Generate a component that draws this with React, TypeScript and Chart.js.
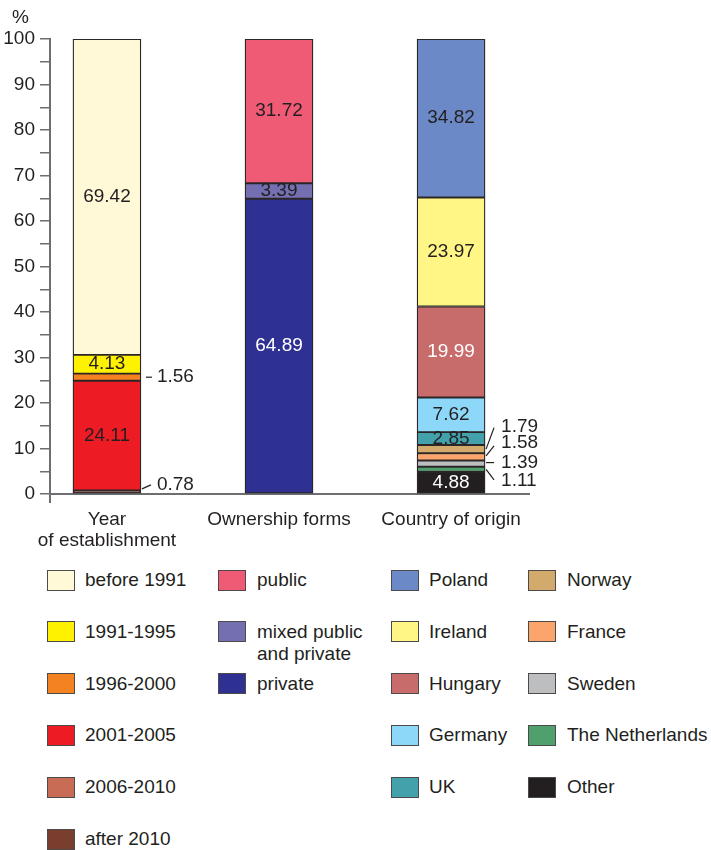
import React, { useEffect, useRef } from 'react';
import { Chart, registerables } from 'chart.js';

Chart.register(...registerables);

// ---------- data ----------
const categories: (string | string[])[] = [['Year', 'of establishment'], 'Ownership forms', 'Country of origin'];
const categoryPositions = [0, 1, 2];

const yearSeries = ['before 1991', '1991-1995', '1996-2000', '2001-2005', '2006-2010', 'after 2010'];
const yearValues: (number | null)[] = [69.42, 4.13, 1.56, 24.11, null, 0.78];

const ownershipSeries = ['public', 'mixed public and private', 'private'];
const ownershipValues: (number | null)[] = [31.72, 3.39, 64.89];

const countrySeries = ['Poland', 'Ireland', 'Hungary', 'Germany', 'UK', 'Norway', 'France', 'Sweden', 'The Netherlands', 'Other'];
const countryValues: (number | null)[] = [34.82, 23.97, 19.99, 7.62, 2.85, 1.79, 1.58, 1.39, 1.11, 4.88];

const yMin = 0;
const yMax = 100;
const yStep = 5;
const yLabelStep = 10;

// ---------- style ----------
const FONT = '"Liberation Sans", Arial, Helvetica, sans-serif';
const FS = 19;
const TEXT = '#231f20';
const AXIS = '#6d6e71';
const BORDER = '#2b2627';

const yearColors = ['#FFF9D8', '#FFF200', '#F58220', '#ED1C24', '#C96C55', '#7A3E2E'];
const ownershipColors = ['#EF5A74', '#736FB0', '#2E3192'];
const countryColors = ['#6A89C6', '#FFF685', '#C86B6B', '#8DD8F8', '#43A1AC', '#D2AA6B', '#FBA56D', '#BCBEC0', '#50A06E', '#231F20'];

type Outside = { ly: number; x1: number; y1: number; x2: number; y2: number };
const labelStyles: Record<string, { color?: string; outside?: Outside }> = {
  'private': { color: '#ffffff' },
  'Hungary': { color: '#ffffff' },
  'Other': { color: '#ffffff' },
  '1996-2000': { outside: { ly: 0, x1: 5, y1: 0, x2: 11, y2: 0 } },
  'after 2010': { outside: { ly: -7, x1: 1, y1: -3, x2: 10, y2: 0 } },
  'Norway': { outside: { ly: -22.5, x1: 1, y1: 0, x2: 9, y2: 1 } },
  'France': { outside: { ly: -14, x1: 1, y1: -1, x2: 9, y2: 3 } },
  'Sweden': { outside: { ly: -1, x1: 1, y1: -1, x2: 9, y2: 0 } },
  'The Netherlands': { outside: { ly: 11.5, x1: 1, y1: 0, x2: 9, y2: -1 } },
};

const groups = [
  { series: yearSeries, values: yearValues, colors: yearColors, cat: categoryPositions[0] },
  { series: ownershipSeries, values: ownershipValues, colors: ownershipColors, cat: categoryPositions[1] },
  { series: countrySeries, values: countryValues, colors: countryColors, cat: categoryPositions[2] },
];

function buildDatasets() {
  const ds: any[] = [];
  groups.forEach((g) => {
    for (let i = g.series.length - 1; i >= 0; i--) {
      ds.push({
        label: g.series[i],
        data: [{ x: g.cat, y: g.values[i] }],
        backgroundColor: g.colors[i],
        borderColor: BORDER,
        borderWidth: 1.3,
        borderSkipped: false,
        barThickness: 68,
        stack: 'all',
      });
    }
  });
  return ds;
}

const segmentLabels = {
  id: 'segmentLabels',
  afterDatasetsDraw(chart: any) {
    const ctx = chart.ctx as CanvasRenderingContext2D;
    ctx.save();
    ctx.font = `${FS}px ${FONT}`;
    chart.data.datasets.forEach((ds: any, i: number) => {
      const meta = chart.getDatasetMeta(i);
      meta.data.forEach((el: any, j: number) => {
        const raw = ds.data[j];
        if (!raw || raw.y == null) return;
        const { x, y, base, width } = el.getProps(['x', 'y', 'base', 'width'], true);
        const cy = (y + base) / 2;
        const text = Number(raw.y).toFixed(2);
        const st = labelStyles[ds.label] || {};
        if (st.outside) {
          const o = st.outside;
          const rx = x + width / 2;
          ctx.strokeStyle = TEXT;
          ctx.lineWidth = 1.2;
          ctx.beginPath();
          ctx.moveTo(rx + o.x1, cy + o.y1);
          ctx.lineTo(rx + o.x2, cy + o.ly + o.y2);
          ctx.stroke();
          ctx.fillStyle = TEXT;
          ctx.textAlign = 'left';
          ctx.textBaseline = 'middle';
          ctx.fillText(text, rx + 16, cy + o.ly);
        } else {
          ctx.fillStyle = st.color || TEXT;
          ctx.textAlign = 'center';
          ctx.textBaseline = 'middle';
          ctx.fillText(text, x, cy);
        }
      });
    });
    // y axis continues a little below the baseline
    const { left, bottom } = chart.chartArea;
    ctx.strokeStyle = AXIS;
    ctx.lineWidth = 2;
    ctx.beginPath();
    ctx.moveTo(left, bottom);
    ctx.lineTo(left, bottom + 9);
    ctx.stroke();
    ctx.restore();
  },
};

function ChartCanvas() {
  const ref = useRef<HTMLCanvasElement | null>(null);
  useEffect(() => {
    if (!ref.current) return;
    const chart = new Chart(ref.current, {
      type: 'bar',
      data: { datasets: buildDatasets() },
      plugins: [segmentLabels],
      options: {
        responsive: false,
        animation: false,
        devicePixelRatio: 1,
        layout: { padding: { top: 39, right: 182, left: 0, bottom: 0 } },
        plugins: { legend: { display: false }, tooltip: { enabled: false } },
        scales: {
          x: {
            type: 'linear',
            stacked: true,
            offset: false,
            bounds: 'data',
            min: -0.331,
            max: 2.453,
            afterBuildTicks: (axis: any) => {
              axis.ticks = categoryPositions.map((v) => ({ value: v }));
            },
            afterFit: (scale: any) => {
              scale.height = 66;
            },
            grid: { display: false, drawTicks: false, offset: false },
            border: { display: true, color: AXIS, width: 2 },
            ticks: {
              autoSkip: false,
              maxRotation: 0,
              padding: 15,
              color: TEXT,
              font: { family: FONT, size: FS, lineHeight: 1.12 },
              callback: (v: any) => {
                const idx = categoryPositions.indexOf(Number(v));
                return idx >= 0 ? (categories[idx] as any) : '';
              },
            },
          },
          y: {
            type: 'linear',
            stacked: true,
            min: yMin,
            max: yMax,
            afterFit: (scale: any) => {
              scale.width = 50;
            },
            grid: { drawOnChartArea: false, drawTicks: true, tickLength: 10, color: AXIS, lineWidth: 1.5 },
            border: { display: true, color: AXIS, width: 2 },
            ticks: {
              stepSize: yStep,
              autoSkip: false,
              padding: 5,
              color: TEXT,
              font: { family: FONT, size: FS },
              callback: (v: any) => (Number(v) % yLabelStep === 0 ? String(v) : ''),
            },
          },
        },
      } as any,
    });
    return () => chart.destroy();
  }, []);
  return <canvas ref={ref} width={711} height={560} style={{ position: 'absolute', left: 0, top: 0, width: 711, height: 560 }} />;
}

const legendColumns = [
  { series: yearSeries, colors: yearColors, swatchX: 47, textX: 85 },
  { series: ownershipSeries, colors: ownershipColors, swatchX: 218, textX: 257 },
  { series: countrySeries.slice(0, 5), colors: countryColors.slice(0, 5), swatchX: 391, textX: 429 },
  { series: countrySeries.slice(5), colors: countryColors.slice(5), swatchX: 528, textX: 567 },
];
const legendTop = 580;
const legendRowGap = 51.8;

function Legend() {
  const items: any[] = [];
  legendColumns.forEach((col, ci) => {
    col.series.forEach((name, ri) => {
      const cy = legendTop + ri * legendRowGap;
      items.push(
        <div
          key={`s-${ci}-${ri}`}
          style={{
            position: 'absolute',
            left: col.swatchX,
            top: cy - 10.5,
            width: 26,
            height: 19,
            background: col.colors[ri],
            border: '1px solid #4d4a4b',
          }}
        />
      );
      items.push(
        <div
          key={`t-${ci}-${ri}`}
          style={{
            position: 'absolute',
            left: col.textX,
            top: cy - 11,
            width: ci === 1 ? 125 : 170,
            font: `${FS}px/22px ${FONT}`,
            color: TEXT,
            whiteSpace: ci === 1 ? 'normal' : 'nowrap',
          }}
        >
          {name}
        </div>
      );
    });
  });
  return <>{items}</>;
}

export default function App() {
  return (
    <div style={{ position: 'absolute', left: 0, top: 0, width: 711, height: 850, background: '#ffffff', overflow: 'hidden' }}>
      <ChartCanvas />
      <div style={{ position: 'absolute', left: 12, top: 6, font: `${FS}px/22px ${FONT}`, color: TEXT }}>%</div>
      <Legend />
    </div>
  );
}
